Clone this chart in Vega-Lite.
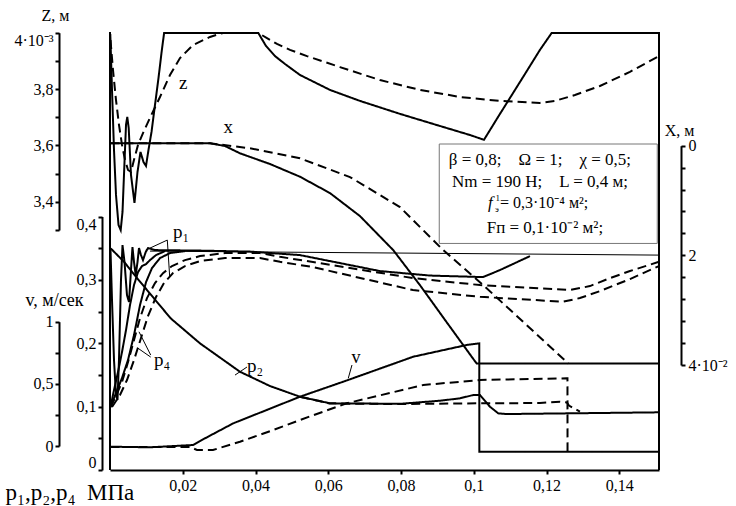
{
"$schema": "https://vega.github.io/schema/vega-lite/v6.json",
"width": 549, "height": 438,
"autosize": {"type": "none"},
"padding": {"left": 110, "top": 32, "right": 77, "bottom": 36},
"background": "white",
"config": {
 "view": {"stroke": null},
 "font": "Liberation Serif, serif",
 "axis": {"domainColor": "#000", "domainWidth": 2, "tickColor": "#000", "tickWidth": 2, "tickSize": 5, "labelFont": "Liberation Serif, serif", "labelFontSize": 16, "labelColor": "#000", "titleFont": "Liberation Serif, serif", "titleFontWeight": "normal", "titleFontSize": 16, "titleColor": "#000", "grid": false, "labelPadding": 2}
},
"datasets": {
 "pc": [
  {"s":"p2s","d":"s","t":0.00019,"p":0.3497},{"s":"p2s","d":"s","t":0.00385,"p":0.3286},{"s":"p2s","d":"s","t":0.0075,"p":0.3024},{"s":"p2s","d":"s","t":0.01209,"p":0.2708},{"s":"p2s","d":"s","t":0.01668,"p":0.2393},{"s":"p2s","d":"s","t":0.02474,"p":0.1998},{"s":"p2s","d":"s","t":0.03573,"p":0.155},{"s":"p2s","d":"s","t":0.04397,"p":0.1325},{"s":"p2s","d":"s","t":0.05222,"p":0.1156},{"s":"p2s","d":"s","t":0.06046,"p":0.1052},{"s":"p2s","d":"s","t":0.0797,"p":0.1044},{"s":"p2s","d":"s","t":0.0907,"p":0.1093},{"s":"p2s","d":"s","t":0.09619,"p":0.1131},{"s":"p2s","d":"s","t":0.09985,"p":0.1183},{"s":"p2s","d":"s","t":0.10169,"p":0.1183},{"s":"p2s","d":"s","t":0.10444,"p":0.0998},{"s":"p2s","d":"s","t":0.10672,"p":0.0894},{"s":"p2s","d":"s","t":0.10903,"p":0.0883},{"s":"p2s","d":"s","t":0.15089,"p":0.091},
  {"s":"p2d","d":"d","t":0.05222,"p":0.1156},{"s":"p2d","d":"d","t":0.06046,"p":0.1049},{"s":"p2d","d":"d","t":0.0797,"p":0.1041},{"s":"p2d","d":"d","t":0.10169,"p":0.1052},{"s":"p2d","d":"d","t":0.11818,"p":0.1057},{"s":"p2d","d":"d","t":0.12368,"p":0.1077},{"s":"p2d","d":"d","t":0.1256,"p":0.1065},{"s":"p2d","d":"d","t":0.12615,"p":0.1017},{"s":"p2d","d":"d","t":0.12917,"p":0.092},
  {"s":"p1s","d":"s","t":0.00014,"p":0.347},{"s":"p1s","d":"s","t":0.00055,"p":0.268},{"s":"p1s","d":"s","t":0.0011,"p":0.1735},{"s":"p1s","d":"s","t":0.00165,"p":0.1183},{"s":"p1s","d":"s","t":0.00206,"p":0.1104},{"s":"p1s","d":"s","t":0.00247,"p":0.1735},{"s":"p1s","d":"s","t":0.00302,"p":0.2997},{"s":"p1s","d":"s","t":0.00344,"p":0.3549},{"s":"p1s","d":"s","t":0.00399,"p":0.328},{"s":"p1s","d":"s","t":0.00467,"p":0.276},{"s":"p1s","d":"s","t":0.00522,"p":0.265},{"s":"p1s","d":"s","t":0.00577,"p":0.3155},{"s":"p1s","d":"s","t":0.00618,"p":0.3517},{"s":"p1s","d":"s","t":0.0066,"p":0.328},{"s":"p1s","d":"s","t":0.00706,"p":0.3076},{"s":"p1s","d":"s","t":0.00756,"p":0.328},{"s":"p1s","d":"s","t":0.00797,"p":0.3502},{"s":"p1s","d":"s","t":0.00852,"p":0.3391},{"s":"p1s","d":"s","t":0.00907,"p":0.3312},{"s":"p1s","d":"s","t":0.00981,"p":0.3438},{"s":"p1s","d":"s","t":0.01044,"p":0.3502},{"s":"p1s","d":"s","t":0.01237,"p":0.347},{"s":"p1s","d":"s","t":0.02474,"p":0.3462},{"s":"p1s","d":"s","t":0.03848,"p":0.3446},{"s":"p1s","d":"s","t":0.05222,"p":0.3391},{"s":"p1s","d":"s","t":0.06321,"p":0.3265},{"s":"p1s","d":"s","t":0.07421,"p":0.3139},{"s":"p1s","d":"s","t":0.08795,"p":0.3068},{"s":"p1s","d":"s","t":0.10252,"p":0.3044},{"s":"p1s","d":"s","t":0.10719,"p":0.3155},{"s":"p1s","d":"s","t":0.11131,"p":0.3265},{"s":"p1s","d":"s","t":0.11543,"p":0.3375},
  {"s":"r1","d":"s","t":0.00014,"p":0.0994},{"s":"r1","d":"s","t":0.0011,"p":0.1262},{"s":"r1","d":"s","t":0.0022,"p":0.1546},{"s":"r1","d":"s","t":0.0033,"p":0.1861},{"s":"r1","d":"s","t":0.0044,"p":0.2208},{"s":"r1","d":"s","t":0.0055,"p":0.2603},{"s":"r1","d":"s","t":0.0066,"p":0.2918},{"s":"r1","d":"s","t":0.0077,"p":0.3123},{"s":"r1","d":"s","t":0.0088,"p":0.3218},{"s":"r1","d":"s","t":0.0099,"p":0.3249},{"s":"r1","d":"s","t":0.011,"p":0.3312},{"s":"r1","d":"s","t":0.01264,"p":0.3391},{"s":"r1","d":"s","t":0.01512,"p":0.3454},
  {"s":"r2","d":"s","t":0.00014,"p":0.0994},{"s":"r2","d":"s","t":0.00165,"p":0.1215},{"s":"r2","d":"s","t":0.0033,"p":0.1451},{"s":"r2","d":"s","t":0.00495,"p":0.1735},{"s":"r2","d":"s","t":0.0066,"p":0.2129},{"s":"r2","d":"s","t":0.00825,"p":0.2603},{"s":"r2","d":"s","t":0.0099,"p":0.2965},{"s":"r2","d":"s","t":0.01154,"p":0.3186},{"s":"r2","d":"s","t":0.01374,"p":0.3344},{"s":"r2","d":"s","t":0.01649,"p":0.3423},{"s":"r2","d":"s","t":0.02061,"p":0.3454},
  {"s":"r3","d":"d","t":0.00014,"p":0.0994},{"s":"r3","d":"d","t":0.00165,"p":0.1167},{"s":"r3","d":"d","t":0.0033,"p":0.1388},{"s":"r3","d":"d","t":0.00495,"p":0.1703},{"s":"r3","d":"d","t":0.0066,"p":0.205},{"s":"r3","d":"d","t":0.00825,"p":0.2397},{"s":"r3","d":"d","t":0.01017,"p":0.2713},{"s":"r3","d":"d","t":0.01237,"p":0.295},{"s":"r3","d":"d","t":0.01457,"p":0.3107},{"s":"r3","d":"d","t":0.01704,"p":0.3218},{"s":"r3","d":"d","t":0.02061,"p":0.3312},{"s":"r3","d":"d","t":0.02474,"p":0.3375},{"s":"r3","d":"d","t":0.03161,"p":0.3423},{"s":"r3","d":"d","t":0.04123,"p":0.3423},{"s":"r3","d":"d","t":0.04672,"p":0.3364},{"s":"r3","d":"d","t":0.05579,"p":0.3281},{"s":"r3","d":"d","t":0.08327,"p":0.3028},{"s":"r3","d":"d","t":0.10169,"p":0.2918},{"s":"r3","d":"d","t":0.12642,"p":0.2839},{"s":"r3","d":"d","t":0.13192,"p":0.2902},{"s":"r3","d":"d","t":0.13742,"p":0.3028},{"s":"r3","d":"d","t":0.14292,"p":0.3139},{"s":"r3","d":"d","t":0.15089,"p":0.3285},
  {"s":"r4","d":"d","t":0.00055,"p":0.0994},{"s":"r4","d":"d","t":0.00275,"p":0.1183},{"s":"r4","d":"d","t":0.00467,"p":0.142},{"s":"r4","d":"d","t":0.0066,"p":0.1735},{"s":"r4","d":"d","t":0.00852,"p":0.2082},{"s":"r4","d":"d","t":0.01044,"p":0.2429},{"s":"r4","d":"d","t":0.01264,"p":0.2729},{"s":"r4","d":"d","t":0.01484,"p":0.295},{"s":"r4","d":"d","t":0.01731,"p":0.3107},{"s":"r4","d":"d","t":0.02061,"p":0.3218},{"s":"r4","d":"d","t":0.02474,"p":0.3297},{"s":"r4","d":"d","t":0.03161,"p":0.3344},{"s":"r4","d":"d","t":0.04123,"p":0.3344},{"s":"r4","d":"d","t":0.04672,"p":0.3285},{"s":"r4","d":"d","t":0.05579,"p":0.3202},{"s":"r4","d":"d","t":0.08327,"p":0.2839},{"s":"r4","d":"d","t":0.10169,"p":0.2733},{"s":"r4","d":"d","t":0.1245,"p":0.2655},{"s":"r4","d":"d","t":0.12917,"p":0.2713},{"s":"r4","d":"d","t":0.13467,"p":0.2823},{"s":"r4","d":"d","t":0.14292,"p":0.3013},{"s":"r4","d":"d","t":0.15089,"p":0.3218}
 ],
 "pthin": [
  {"s":"A","t":0.01099,"p":0.3454},{"s":"A","t":0.15089,"p":0.3391},
  {"s":"L1","t":0.00981,"p":0.347},{"s":"L1","t":0.01575,"p":0.3628},
  {"s":"L2","t":0.01575,"p":0.3628},{"s":"L2","t":0.01641,"p":0.3049},
  {"s":"L3","t":0.00797,"p":0.2181},{"s":"L3","t":0.01119,"p":0.1814},
  {"s":"L4","t":0.0075,"p":0.1929},{"s":"L4","t":0.01119,"p":0.1782},
  {"s":"L5","t":0.03436,"p":0.1498},{"s":"L5","t":0.03765,"p":0.1625}
 ],
 "plab": [
  {"t":0.01951,"p":0.3754,"label":"p₁"},
  {"t":0.01429,"p":0.1735,"label":"p₄"},
  {"t":0.03985,"p":0.164,"label":"p₂"}
 ],
 "vc": [
  {"s":"vs","d":"s","t":0.00014,"v":-0.0056},{"s":"vs","d":"s","t":0.01099,"v":-0.0105},{"s":"vs","d":"s","t":0.02281,"v":0.008},{"s":"vs","d":"s","t":0.02474,"v":0.0402},{"s":"vs","d":"s","t":0.02886,"v":0.1046},{"s":"vs","d":"s","t":0.03389,"v":0.1826},{"s":"vs","d":"s","t":0.04307,"v":0.2896},{"s":"vs","d":"s","t":0.05222,"v":0.3966},{"s":"vs","d":"s","t":0.06412,"v":0.5173},{"s":"vs","d":"s","t":0.08336,"v":0.7184},{"s":"vs","d":"s","t":0.09803,"v":0.8126},{"s":"vs","d":"s","t":0.1015,"v":0.8262},{"s":"vs","d":"s","t":0.10152,"v":-0.0459},{"s":"vs","d":"s","t":0.15089,"v":-0.0459},
  {"s":"vd","d":"d","t":0.00014,"v":-0.008},{"s":"vd","d":"d","t":0.02199,"v":-0.008},{"s":"vd","d":"d","t":0.02391,"v":-0.0322},{"s":"vd","d":"d","t":0.02831,"v":-0.0322},{"s":"vd","d":"d","t":0.03573,"v":0.0346},{"s":"vd","d":"d","t":0.04488,"v":0.1287},{"s":"vd","d":"d","t":0.05222,"v":0.2092},{"s":"vd","d":"d","t":0.06505,"v":0.3435},{"s":"vd","d":"d","t":0.08611,"v":0.4907},{"s":"vd","d":"d","t":0.10169,"v":0.531},{"s":"vd","d":"d","t":0.12552,"v":0.5447},{"s":"vd","d":"d","t":0.12574,"v":0.5447},{"s":"vd","d":"d","t":0.12576,"v":-0.0459}
 ],
 "vthin": [
  {"s":"L6","t":0.06549,"v":0.5446},{"s":"L6","t":0.06651,"v":0.6516}
 ],
 "vlab": [{"t":0.06761,"v":0.708,"label":"v"}],
 "zc": [
  {"s":"zs","d":"s","t":0.00008,"z":3.995},{"s":"zs","d":"s","t":0.00055,"z":3.797},{"s":"zs","d":"s","t":0.0011,"z":3.584},{"s":"zs","d":"s","t":0.00165,"z":3.4245},{"s":"zs","d":"s","t":0.00234,"z":3.318},{"s":"zs","d":"s","t":0.00294,"z":3.3},{"s":"zs","d":"s","t":0.00344,"z":3.364},{"s":"zs","d":"s","t":0.00401,"z":3.549},{"s":"zs","d":"s","t":0.0044,"z":3.673},{"s":"zs","d":"s","t":0.00475,"z":3.701},{"s":"zs","d":"s","t":0.00514,"z":3.662},{"s":"zs","d":"s","t":0.00577,"z":3.495},{"s":"zs","d":"s","t":0.00673,"z":3.396},{"s":"zs","d":"s","t":0.00756,"z":3.506},{"s":"zs","d":"s","t":0.00838,"z":3.577},{"s":"zs","d":"s","t":0.00921,"z":3.541},{"s":"zs","d":"s","t":0.00989,"z":3.527},{"s":"zs","d":"s","t":0.01058,"z":3.584},{"s":"zs","d":"s","t":0.01141,"z":3.648},{"s":"zs","d":"s","t":0.01237,"z":3.744},{"s":"zs","d":"s","t":0.01333,"z":3.839},{"s":"zs","d":"s","t":0.01415,"z":3.928},{"s":"zs","d":"s","t":0.01487,"z":3.999},{"s":"zs","d":"s","t":0.04076,"z":3.999},{"s":"zs","d":"s","t":0.04287,"z":3.953},{"s":"zs","d":"s","t":0.04535,"z":3.917},{"s":"zs","d":"s","t":0.0481,"z":3.889},{"s":"zs","d":"s","t":0.05222,"z":3.85},{"s":"zs","d":"s","t":0.06046,"z":3.797},{"s":"zs","d":"s","t":0.06871,"z":3.758},{"s":"zs","d":"s","t":0.0797,"z":3.712},{"s":"zs","d":"s","t":0.0907,"z":3.669},{"s":"zs","d":"s","t":0.09894,"z":3.637},{"s":"zs","d":"s","t":0.10279,"z":3.62},{"s":"zs","d":"s","t":0.10719,"z":3.712},{"s":"zs","d":"s","t":0.11268,"z":3.825},{"s":"zs","d":"s","t":0.11818,"z":3.939},{"s":"zs","d":"s","t":0.1214,"z":3.999},{"s":"zs","d":"s","t":0.15089,"z":3.999},
  {"s":"zd","d":"d","t":0.00014,"z":3.974},{"s":"zd","d":"d","t":0.00082,"z":3.868},{"s":"zd","d":"d","t":0.00165,"z":3.761},{"s":"zd","d":"d","t":0.00247,"z":3.673},{"s":"zd","d":"d","t":0.0033,"z":3.602},{"s":"zd","d":"d","t":0.00412,"z":3.549},{"s":"zd","d":"d","t":0.00495,"z":3.513},{"s":"zd","d":"d","t":0.00577,"z":3.506},{"s":"zd","d":"d","t":0.0066,"z":3.549},{"s":"zd","d":"d","t":0.0077,"z":3.602},{"s":"zd","d":"d","t":0.00907,"z":3.644},{"s":"zd","d":"d","t":0.01099,"z":3.698},{"s":"zd","d":"d","t":0.01374,"z":3.772},{"s":"zd","d":"d","t":0.01649,"z":3.85},{"s":"zd","d":"d","t":0.01924,"z":3.91},{"s":"zd","d":"d","t":0.02281,"z":3.956},{"s":"zd","d":"d","t":0.02748,"z":3.985},{"s":"zd","d":"d","t":0.03106,"z":3.999},{"s":"zd","d":"d","t":0.04076,"z":3.999},{"s":"zd","d":"d","t":0.04315,"z":3.981},{"s":"zd","d":"d","t":0.0459,"z":3.96},{"s":"zd","d":"d","t":0.04947,"z":3.939},{"s":"zd","d":"d","t":0.05414,"z":3.917},{"s":"zd","d":"d","t":0.0632,"z":3.878},{"s":"zd","d":"d","t":0.07421,"z":3.832},{"s":"zd","d":"d","t":0.0852,"z":3.797},{"s":"zd","d":"d","t":0.09619,"z":3.772},{"s":"zd","d":"d","t":0.10719,"z":3.758},{"s":"zd","d":"d","t":0.11818,"z":3.751},{"s":"zd","d":"d","t":0.1223,"z":3.758},{"s":"zd","d":"d","t":0.1278,"z":3.779},{"s":"zd","d":"d","t":0.13467,"z":3.811},{"s":"zd","d":"d","t":0.14291,"z":3.861},{"s":"zd","d":"d","t":0.15089,"z":3.917}
 ],
 "zlab": [{"t":0.02015,"z":3.821,"label":"z"}],
 "xc": [
  {"s":"xs","d":"s","t":0.0001,"xm":-0.044},{"s":"xs","d":"s","t":0.02748,"xm":-0.044},{"s":"xs","d":"s","t":0.0316,"xm":0.005},{"s":"xs","d":"s","t":0.03573,"xm":0.139},{"s":"xs","d":"s","t":0.04397,"xm":0.334},{"s":"xs","d":"s","t":0.05222,"xm":0.566},{"s":"xs","d":"s","t":0.06046,"xm":0.864},{"s":"xs","d":"s","t":0.06871,"xm":1.284},{"s":"xs","d":"s","t":0.07786,"xm":1.905},{"s":"xs","d":"s","t":0.0852,"xm":2.544},{"s":"xs","d":"s","t":0.09254,"xm":3.22},{"s":"xs","d":"s","t":0.10078,"xm":3.974},{"s":"xs","d":"s","t":0.15089,"xm":3.974},
  {"s":"xd","d":"d","t":0.0001,"xm":-0.044},{"s":"xd","d":"d","t":0.02748,"xm":-0.044},{"s":"xd","d":"d","t":0.03848,"xm":0.047},{"s":"xd","d":"d","t":0.05222,"xm":0.23},{"s":"xd","d":"d","t":0.06596,"xm":0.572},{"s":"xd","d":"d","t":0.0797,"xm":1.12},{"s":"xd","d":"d","t":0.0916,"xm":1.905},{"s":"xd","d":"d","t":0.1026,"xm":2.544},{"s":"xd","d":"d","t":0.11359,"xm":3.215},{"s":"xd","d":"d","t":0.12599,"xm":3.974}
 ],
 "xlab": [{"t":0.03251,"xm":-0.347,"label":"x"}],
 "box": [{"t":0.0905,"t2":0.15042,"xm":-0.031,"xm2":1.783}],
 "boxc": [
  {"t":0.11818,"xm":0.3525,"label":"β = 0,8;\u00a0\u00a0\u00a0\u00a0Ω = 1;\u00a0\u00a0\u00a0\u00a0χ = 0,5;"},
  {"t":0.11818,"xm":0.7489,"label":"Nm = 190 Н;\u00a0\u00a0\u00a0\u00a0L = 0,4 м;"},
  {"t":0.11955,"xm":1.6,"label":"Fп = 0,1·10⁻² м²;"}
 ],
 "boxl": [{"t":0.10719,"xm":1.1434,"label":"= 0,3·10⁻⁴ м²;"}],
 "boxf": [{"t":0.10389,"xm":1.1434,"label":"f"}],
 "boxs": [{"t":0.10595,"xm":1.01,"label":"1"},{"t":0.10581,"xm":1.211,"label":"э"}]
},
"encoding": {
 "x": {"field": "t", "type": "quantitative",
  "scale": {"domain": [0, 0.1509], "nice": false, "zero": false},
  "axis": {"orient": "bottom", "values": [0.02, 0.04, 0.06, 0.08, 0.1, 0.12, 0.14], "labelExpr": "replace(format(datum.value, '~g'), '.', ',')", "title": "p₁,p₂,p₄\u00a0\u00a0МПа", "titleX": -105, "titleY": 29, "titleAlign": "left", "titleBaseline": "alphabetic", "titleFontSize": 23, "tickSize": 4, "labelPadding": 3}}
},
"layer": [
 {
  "data": {"name": "pc"},
  "encoding": {"y": {"field": "p", "type": "quantitative",
   "scale": {"domain": [0, 0.4], "range": [438, 184.5], "nice": false, "zero": false},
   "axis": {"orient": "left", "offset": 8, "values": [0, 0.05, 0.1, 0.15, 0.2, 0.25, 0.3, 0.35, 0.4], "labelExpr": "round(datum.value*100) % 10 == 0 ? (datum.value == 0 ? '0' : replace(format(datum.value, '.1f'), '.', ',')) : ''", "title": null, "labelFlush": true, "tickSize": 4}}},
  "layer": [
   {"mark": {"type": "line", "strokeWidth": 2, "color": "#000"},
    "encoding": {"detail": {"field": "s"}, "strokeDash": {"field": "d", "type": "nominal", "scale": {"domain": ["s", "d"], "range": [[1, 0], [9, 5]]}, "legend": null}}},
   {"data": {"name": "pthin"}, "mark": {"type": "line", "strokeWidth": 1, "color": "#000"}, "encoding": {"detail": {"field": "s"}}},
   {"data": {"name": "plab"}, "mark": {"type": "text", "fontSize": 19, "font": "Liberation Serif, serif", "color": "#000"}, "encoding": {"text": {"field": "label"}}}
  ]
 },
 {
  "data": {"name": "vc"},
  "encoding": {"y": {"field": "v", "type": "quantitative",
   "scale": {"domain": [0, 1], "range": [414, 289.7], "nice": false, "zero": false},
   "axis": {"orient": "left", "offset": 51, "values": [0, 0.25, 0.5, 0.75, 1], "labelExpr": "datum.value == 0 ? '0' : datum.value == 1 ? '1' : datum.value == 0.5 ? '0,5' : ''", "title": "v, м/сек", "titleAngle": 0, "titleX": -5, "titleY": 273, "titleAlign": "center", "titleBaseline": "alphabetic", "titleFontSize": 18, "tickSize": 4}}},
  "layer": [
   {"mark": {"type": "line", "strokeWidth": 2, "color": "#000"},
    "encoding": {"detail": {"field": "s"}, "strokeDash": {"field": "d", "type": "nominal", "scale": {"domain": ["s", "d"], "range": [[1, 0], [9, 5]]}, "legend": null}}},
   {"data": {"name": "vthin"}, "mark": {"type": "line", "strokeWidth": 1, "color": "#000"}, "encoding": {"detail": {"field": "s"}}},
   {"data": {"name": "vlab"}, "mark": {"type": "text", "fontSize": 18, "font": "Liberation Serif, serif", "color": "#000"}, "encoding": {"text": {"field": "label"}}}
  ]
 },
 {
  "data": {"name": "zc"},
  "encoding": {"y": {"field": "z", "type": "quantitative",
   "scale": {"domain": [3.3, 4.0], "range": [198, 0.7], "nice": false, "zero": false},
   "axis": {"orient": "left", "offset": 51, "values": [3.3, 3.4, 3.5, 3.6, 3.7, 3.8, 3.9, 4.0], "labelExpr": "datum.value >= 3.99 ? '4·10⁻³' : (round(datum.value*10) % 2 == 0 ? replace(format(datum.value, '.1f'), '.', ',') : '')", "labelFlush": true, "title": "Z, м", "titleAngle": 0, "titleX": -4, "titleY": -12, "titleAlign": "center", "titleBaseline": "alphabetic", "titleFontSize": 16, "tickSize": 4}}},
  "layer": [
   {"mark": {"type": "line", "strokeWidth": 2, "color": "#000"},
    "encoding": {"detail": {"field": "s"}, "strokeDash": {"field": "d", "type": "nominal", "scale": {"domain": ["s", "d"], "range": [[1, 0], [9, 5]]}, "legend": null}}},
   {"data": {"name": "zlab"}, "mark": {"type": "text", "fontSize": 19, "font": "Liberation Serif, serif", "color": "#000"}, "encoding": {"text": {"field": "label"}}}
  ]
 },
 {
  "data": {"name": "xc"},
  "encoding": {"y": {"field": "xm", "type": "quantitative",
   "scale": {"domain": [0, 4], "range": [113.7, 333], "nice": false, "zero": false},
   "axis": {"orient": "right", "offset": 22, "values": [0, 0.4, 0.8, 1.2, 1.6, 2, 2.4, 2.8, 3.2, 3.6, 4], "labelExpr": "datum.value == 0 ? '\u2007\u20090' : datum.value == 2 ? '\u2007\u20092' : datum.value == 4 ? '4·10⁻²' : ''", "title": "X, м", "titleAngle": 0, "titleX": -2, "titleY": 103, "titleAlign": "center", "titleBaseline": "alphabetic", "titleFontSize": 16, "tickSize": 4, "labelPadding": 3}}},
  "layer": [
   {"mark": {"type": "line", "strokeWidth": 2, "color": "#000"},
    "encoding": {"detail": {"field": "s"}, "strokeDash": {"field": "d", "type": "nominal", "scale": {"domain": ["s", "d"], "range": [[1, 0], [9, 5]]}, "legend": null}}},
   {"data": {"name": "xlab"}, "mark": {"type": "text", "fontSize": 19, "font": "Liberation Serif, serif", "color": "#000"}, "encoding": {"text": {"field": "label"}}},
   {"data": {"name": "box"}, "mark": {"type": "rect", "fill": "white", "stroke": "#777", "strokeWidth": 1},
    "encoding": {"x2": {"field": "t2"}, "y2": {"field": "xm2"}}},
   {"data": {"name": "boxc"}, "mark": {"type": "text", "fontSize": 17, "font": "Liberation Serif, serif", "color": "#000", "align": "center", "baseline": "alphabetic"}, "encoding": {"text": {"field": "label"}}},
   {"data": {"name": "boxl"}, "mark": {"type": "text", "fontSize": 16, "font": "Liberation Serif, serif", "color": "#000", "align": "left", "baseline": "alphabetic"}, "encoding": {"text": {"field": "label"}}},
   {"data": {"name": "boxf"}, "mark": {"type": "text", "fontSize": 17, "font": "Liberation Serif, serif", "fontStyle": "italic", "color": "#000", "align": "left", "baseline": "alphabetic"}, "encoding": {"text": {"field": "label"}}},
   {"data": {"name": "boxs"}, "mark": {"type": "text", "fontSize": 9, "font": "Liberation Serif, serif", "color": "#000", "align": "left", "baseline": "alphabetic"}, "encoding": {"text": {"field": "label"}}}
  ]
 },
 {
  "data": {"values": [{"t": 0}, {"t": 0.1509}]},
  "mark": {"type": "rule", "strokeWidth": 2, "color": "#000"}
 }
],
"resolve": {"scale": {"y": "independent"}, "axis": {"y": "independent"}}
}
